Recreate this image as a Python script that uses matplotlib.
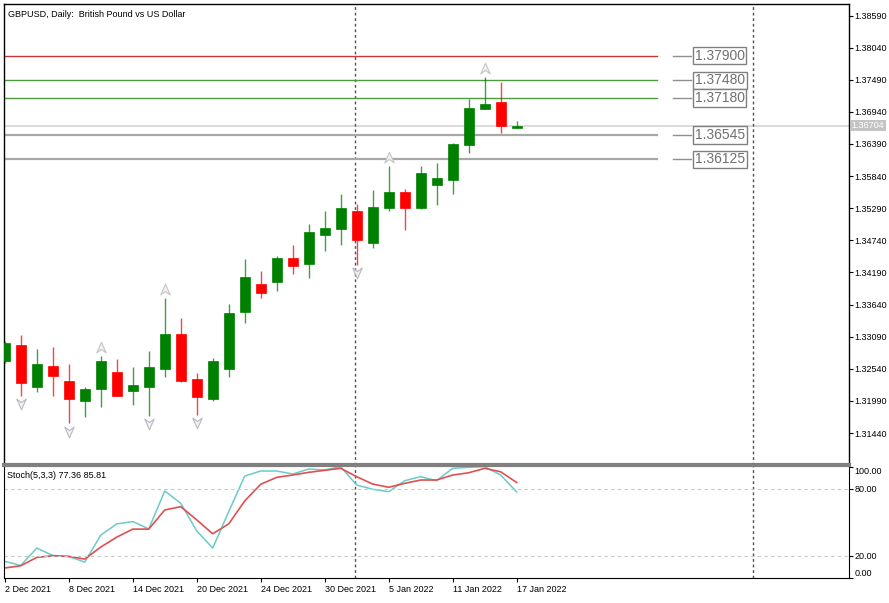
import matplotlib.pyplot as plt
import matplotlib.transforms as mtransforms
from matplotlib.path import Path

plt.rcParams['font.family'] = ['Liberation Sans', 'DejaVu Sans']

# daily candles, 2 Dec 2021 .. 17 Jan 2022
opens = [1.32668, 1.32947, 1.32233, 1.32587, 1.32336, 1.31983, 1.32188, 1.32490, 1.32154, 1.32233,
         1.32531, 1.33135, 1.32365, 1.32017, 1.32531, 1.33512, 1.33992, 1.34031, 1.34437, 1.34334,
         1.34831, 1.34934, 1.35242, 1.34699, 1.35293, 1.35562, 1.35285, 1.35687, 1.35773, 1.36367,
         1.36984, 1.37103, 1.36658]
highs = [1.33010, 1.33118, 1.32878, 1.32913, 1.32622, 1.32223, 1.32759, 1.32707, 1.32570, 1.32844,
         1.33747, 1.33404, 1.32462, 1.32719, 1.33649, 1.34420, 1.34214, 1.34466, 1.34654, 1.35019,
         1.35237, 1.35533, 1.35362, 1.35596, 1.36007, 1.35613, 1.36007, 1.36059, 1.36401, 1.37160,
         1.37532, 1.37451, 1.36788]
lows = [1.32640, 1.32079, 1.32147, 1.32079, 1.31606, 1.31709, 1.31880, 1.32069, 1.31914, 1.31731,
        1.32404, 1.32308, 1.31748, 1.31983, 1.32404, 1.33324, 1.33757, 1.33877, 1.34163, 1.34100,
        1.34562, 1.34665, 1.34317, 1.34613, 1.35242, 1.34916, 1.35276, 1.35345, 1.35533, 1.36230,
        1.36984, 1.36573, 1.36658]
closes = [1.32986, 1.32291, 1.32622, 1.32421, 1.32017, 1.32199, 1.32678, 1.32079, 1.32262, 1.32570,
          1.33135, 1.32325, 1.32062, 1.32678, 1.33495, 1.34112, 1.33843, 1.34442, 1.34305, 1.34877,
          1.34951, 1.35288, 1.34745, 1.35305, 1.35562, 1.35293, 1.35888, 1.35802, 1.36384, 1.37011,
          1.37079, 1.36692, 1.36704]

fractal_up = [6, 10, 24, 30]
fractal_down = [1, 4, 9, 12, 22]

stoch_k = [14.9, 11.3, 26.9, 20.2, 19.3, 14.3, 38.5, 48.6, 50.7, 44.1, 78.2, 67.1, 42.3, 26.9, 59.6,
           91.6, 96.1, 96.1, 93.4, 97.9, 97.0, 100.0, 83.5, 79.7, 77.5, 87.4, 91.0, 87.4, 98.5, 99.4,
           100.0, 92.5, 77.36]
stoch_d = [9.0, 11.0, 18.5, 20.0, 19.4, 17.0, 27.8, 36.7, 43.9, 43.9, 61.1, 64.1, 52.2, 39.7, 48.6,
           69.2, 84.2, 90.4, 92.5, 94.9, 96.7, 98.5, 91.0, 84.4, 81.5, 85.0, 88.0, 88.0, 92.5, 94.5,
           98.5, 95.4, 85.81]

date_ticks = [0, 4, 8, 12, 16, 20, 24, 28, 32]
date_labels = ['2 Dec 2021', '8 Dec 2021', '14 Dec 2021', '20 Dec 2021', '24 Dec 2021',
               '30 Dec 2021', '5 Jan 2022', '11 Jan 2022', '17 Jan 2022']

price_ticks = [1.38590, 1.38040, 1.37490, 1.36940, 1.36390, 1.35840, 1.35290, 1.34740,
               1.34190, 1.33640, 1.33090, 1.32540, 1.31990, 1.31440]
levels = [1.37900, 1.37480, 1.37180, 1.36545, 1.36125]
level_colors = ['#cc3333', '#4e9a3e', '#4e9a3e', '#a8a8a8', '#a8a8a8']
last_price = 1.36704
separators = [21.9, 46.8]

GREEN = '#008000'
RED = '#ff0000'

# MT-style arrowhead markers for fractals
arrow_up = Path([(0, 1), (0.75, -0.7), (0, -0.15), (-0.75, -0.7), (0, 1)],
                [Path.MOVETO, Path.LINETO, Path.LINETO, Path.LINETO, Path.CLOSEPOLY])
arrow_down = Path([(0, -1), (0.75, 0.7), (0, 0.15), (-0.75, 0.7), (0, -1)],
                  [Path.MOVETO, Path.LINETO, Path.LINETO, Path.LINETO, Path.CLOSEPOLY])

fig = plt.figure(figsize=(8.89, 6.03), dpi=100)
ax = fig.add_axes([4 / 889, 1 - 465 / 603, 845 / 889, 461 / 603])
ax2 = fig.add_axes([4 / 889, 1 - 578 / 603, 845 / 889, 113 / 603], sharex=ax)

# candles
for i in range(len(opens)):
    o, h, l, c = opens[i], highs[i], lows[i], closes[i]
    col = GREEN if c >= o else RED
    ax.vlines(i, l, h, color=col, lw=1, alpha=0.75, zorder=3)
    ax.bar(i, max(abs(c - o), 0.00004), bottom=min(o, c), width=0.64,
           color=col, edgecolor=col, lw=0.5, zorder=4)

for i in fractal_up:
    ax.plot(i, highs[i] + 0.00135, marker=arrow_up, ms=9, mfc='#f2f2f2', mec='#c4c4c4', mew=0.8, zorder=5)
for i in fractal_down:
    ax.plot(i, lows[i] - 0.00125, marker=arrow_down, ms=9, mfc='#f2f2f2', mec='#b8b8c4', mew=0.8, zorder=5)

# support / resistance levels with boxed labels
trans = mtransforms.blended_transform_factory(ax.transAxes, ax.transData)
for lv, lc in zip(levels, level_colors):
    lw = 1.0 if lc != '#a8a8a8' else 1.6
    ax.axhline(lv, xmin=0, xmax=0.7724, color=lc, lw=lw, zorder=2)
    ax.plot([0.792, 0.8136], [lv, lv], color='#909090', lw=1, transform=trans, clip_on=False)
    ax.text(0.8175, lv, f'{lv:.5f}', transform=trans, fontsize=10, color='#707070',
            va='center', ha='left',
            bbox=dict(boxstyle='square,pad=0.12', fc='white', ec='#808080', lw=1))

ax.axhline(last_price, color='#d4d4d4', lw=1.2, zorder=1)
ax.text(1.003, last_price, f'{last_price:.5f}', transform=trans, fontsize=6.5, color='white',
        va='center', ha='left', bbox=dict(boxstyle='square,pad=0.15', fc='#c4c4c4', ec='none'))

ax.set_ylim(1.30892, 1.38787)
ax.set_xlim(-0.05, 52.78)
ax.yaxis.tick_right()
ax.set_yticks(price_ticks)
ax.set_yticklabels([f'{p:.5f}' for p in price_ticks])
ax.tick_params(axis='y', labelsize=6.5, length=3, pad=1, width=0.8)
ax.tick_params(axis='x', bottom=False, labelbottom=False)
ax.spines['bottom'].set_visible(False)
for s in ['left', 'top', 'right']:
    ax.spines[s].set_linewidth(1)

ax.text(0.005, 0.988, 'GBPUSD, Daily:  British Pound vs US Dollar', transform=ax.transAxes,
        fontsize=6.5, va='top', ha='left')

# stochastic panel
x = list(range(len(stoch_k)))
ax2.plot(x, stoch_k, color='#6ccaca', lw=1.1)
ax2.plot(x, stoch_d, color='#e05050', lw=1.2)
ax2.axhline(80, color='#c8c8c8', lw=0.8, ls=(0, (3, 3)))
ax2.axhline(20, color='#c8c8c8', lw=0.8, ls=(0, (3, 3)))
ax2.set_ylim(0, 101.5)
ax2.yaxis.tick_right()
ax2.set_yticks([100, 80, 20, 0])
ax2.set_yticklabels(['100.00', '80.00', '20.00', '0.00'])
ax2.tick_params(axis='y', labelsize=6.5, length=3, pad=1, width=0.8)
lbls = ax2.get_yticklabels()
lbls[0].set_va('top')
lbls[3].set_va('bottom')
ax2.set_xticks(date_ticks)
ax2.set_xticklabels(date_labels, ha='left')
ax2.tick_params(axis='x', labelsize=6.5, length=3, pad=2, width=0.8)
ax2.spines['top'].set_color('#808080')
ax2.spines['top'].set_linewidth(3)
ax2.text(0.004, 0.95, 'Stoch(5,3,3) 77.36 85.81', transform=ax2.transAxes,
         fontsize=6.5, va='top', ha='left')

for a in (ax, ax2):
    for sx in separators:
        a.axvline(sx, color='#505050', lw=1, ls=(0, (2, 2)), zorder=1)

fig.savefig('out.png', dpi=100, facecolor='white')
